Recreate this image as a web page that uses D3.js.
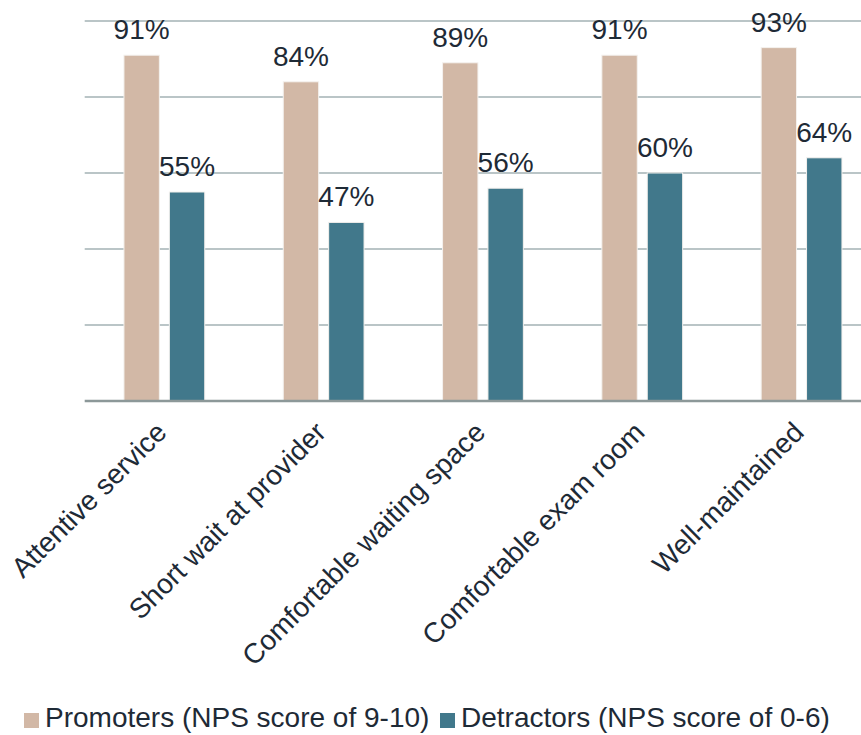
<!DOCTYPE html>
<html lang="en">

<head>
  <meta charset="UTF-8">
  <title>NPS drivers</title>
  <script src="https://d3js.org/d3.v7.min.js"></script>
  <style>
    body { margin: 0; background: #fff; }
    text { font-family: "Liberation Sans", Arial, sans-serif; fill: #1e2a36; }
  </style>
</head>

<body>
  <script>
    const categories = ['Attentive service', 'Short wait at provider', 'Comfortable waiting space',
      'Comfortable exam room', 'Well-maintained'];
    const seriesNames = ['Promoters (NPS score of 9-10)', 'Detractors (NPS score of 0-6)'];
    const promoters = [0.91, 0.84, 0.89, 0.91, 0.93];
    const detractors = [0.55, 0.47, 0.56, 0.60, 0.64];
    const gridTicks = [0, 0.2, 0.4, 0.6, 0.8, 1.0];
    const colors = ['#d2b8a6', '#41788b'];

    const w = 861;
    const h = 735;

    const rows = categories.map((c, i) => ({ cat: c, values: [promoters[i], detractors[i]] }));

    const x0 = d3.scaleBand()
      .domain(categories)
      .range([84.7, 84.7 + 159.3 * 5]);

    const x1 = d3.scaleBand()
      .domain([0, 1])
      .range([39.25, 39.25 + 80.8])
      .paddingInner(0.22);

    const y = d3.scaleLinear()
      .domain([0, 1])
      .range([401, 21]);

    const svg = d3.select('body')
      .append('svg')
      .attr('width', w)
      .attr('height', h);

    // gridlines
    svg.selectAll('line.grid')
      .data(gridTicks.slice(1))
      .enter()
      .append('line')
      .attr('class', 'grid')
      .attr('x1', 84.7)
      .attr('x2', w)
      .attr('y1', d => y(d))
      .attr('y2', d => y(d))
      .attr('stroke', '#bac5c7')
      .attr('stroke-width', 2);

    // bars
    const groups = svg.selectAll('g.grp')
      .data(rows)
      .enter()
      .append('g')
      .attr('class', 'grp')
      .attr('transform', d => `translate(${x0(d.cat)},0)`);

    groups.selectAll('rect')
      .data(d => d.values.map((v, i) => ({ v, i })))
      .enter()
      .append('rect')
      .attr('x', d => x1(d.i))
      .attr('y', d => y(d.v))
      .attr('width', x1.bandwidth())
      .attr('height', d => y(0) - y(d.v))
      .attr('fill', d => colors[d.i])
      .attr('stroke', '#f4f1ee')
      .attr('stroke-width', 1);

    groups.selectAll('text')
      .data(d => d.values.map((v, i) => ({ v, i })))
      .enter()
      .append('text')
      .attr('x', d => x1(d.i) + x1.bandwidth() / 2)
      .attr('y', d => y(d.v) - 16)
      .attr('text-anchor', 'middle')
      .style('font-size', '28px')
      .text(d => d3.format('.0%')(d.v));

    // baseline
    svg.append('line')
      .attr('x1', 84.7)
      .attr('x2', w)
      .attr('y1', y(0))
      .attr('y2', y(0))
      .attr('stroke', '#8c9899')
      .attr('stroke-width', 2.5);

    // category labels
    svg.selectAll('text.cat')
      .data(categories)
      .enter()
      .append('text')
      .attr('class', 'cat')
      .attr('text-anchor', 'end')
      .attr('transform', d => `translate(${x0(d) + x0.bandwidth() / 2 + 4},${y(0) + 33}) rotate(-45)`)
      .style('font-size', '28px')
      .text(d => d);

    // legend
    const legendX = [24, 440];
    const legend = svg.selectAll('g.legend')
      .data(seriesNames)
      .enter()
      .append('g')
      .attr('class', 'legend')
      .attr('transform', (d, i) => `translate(${legendX[i]},713)`);

    legend.append('rect')
      .attr('width', 15)
      .attr('height', 15)
      .attr('fill', (d, i) => colors[i]);

    legend.append('text')
      .attr('x', 21)
      .attr('y', 14)
      .style('font-size', '28px')
      .text(d => d);
  </script>
</body>

</html>
